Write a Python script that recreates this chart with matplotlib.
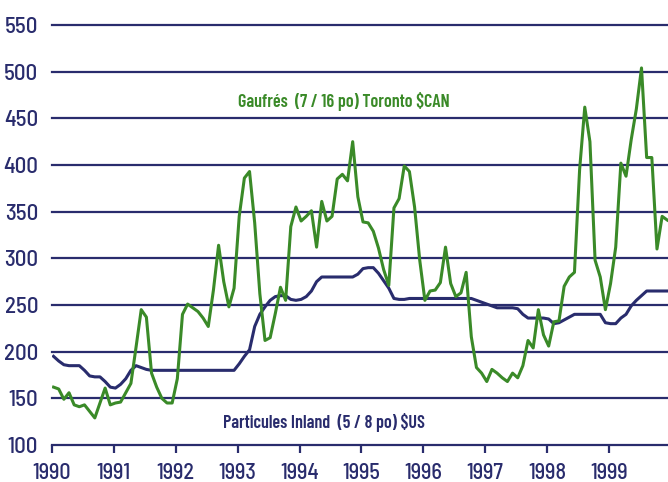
import numpy as np
import matplotlib
matplotlib.use("Agg")
import matplotlib.pyplot as plt

# monthly prices, Jan 1990 .. Dec 1999
gaufres = [162, 160, 149, 156, 143, 141, 143, 136, 129, 145, 161, 143,
           145, 146, 156, 166, 205, 245, 237, 177, 162, 150, 145, 145,
           171, 240, 251, 247, 243, 236, 227, 266, 314, 275, 248, 268,
           345, 386, 393, 338, 262, 212, 215, 241, 269, 255, 334, 355,
           340, 345, 351, 312, 361, 340, 345, 385, 390, 383, 425, 366,
           339, 338, 329, 311, 288, 271, 354, 364, 399, 393, 355, 298,
           255, 265, 266, 274, 312, 273, 259, 263, 285, 216, 183, 177,
           168, 181, 177, 172, 168, 177, 172, 185, 212, 204, 245, 218,
           206, 232, 233, 270, 280, 285, 395, 462, 425, 298, 280, 245,
           273, 312, 402, 388, 427, 460, 504, 408, 408, 310, 345, 341]

particules = [195, 190, 186, 185, 185, 185, 180, 174, 173, 173, 168, 162,
              161, 165, 171, 180, 185, 183, 181, 180, 180, 180, 180, 180,
              180, 180, 180, 180, 180, 180, 180, 180, 180, 180, 180, 180,
              187, 195, 202, 227, 240, 248, 255, 259, 260, 260, 256, 255,
              256, 259, 265, 275, 280, 280, 280, 280, 280, 280, 280, 283,
              289, 290, 290, 284, 276, 268, 257, 256, 256, 257, 257, 257,
              257, 257, 257, 257, 257, 257, 257, 257, 257, 257, 255, 253,
              251, 249, 247, 247, 247, 247, 246, 240, 236, 236, 236, 236,
              235, 230, 231, 234, 237, 240, 240, 240, 240, 240, 240, 231,
              230, 230, 236, 240, 249, 255, 260, 265, 265, 265, 265, 265]

years = list(range(1990, 2000))
yticks = list(range(100, 551, 50))

label_green = "Gaufrés  (7 / 16 po) Toronto $CAN"
label_navy = "Particules Inland  (5 / 8 po) $US"

NAVY = "#292c6d"
GREEN = "#3a8a28"
TICK_FONT = ["Barlow Semi Condensed", "DejaVu Sans"]
LABEL_FONT = ["Barlow Condensed", "DejaVu Sans"]

t = 1990 + (np.arange(len(gaufres)) + 0.3) / 12

fig = plt.figure(figsize=(6.68, 4.82), dpi=100)
ax = fig.add_axes([52 / 668, 37 / 482, 616 / 668, 420 / 482])

for y in yticks:
    ax.axhline(y, color=NAVY, lw=1.6, zorder=1, clip_on=False)

ax.plot(t, particules, color=NAVY, lw=2.2, zorder=3, solid_joinstyle="round")
ax.plot(t, gaufres, color=GREEN, lw=2.2, zorder=4, solid_joinstyle="round")

ax.set_xlim(1990, 1990 + 616 / 61.89)
ax.set_ylim(100, 550)

for s in ax.spines.values():
    s.set_visible(False)

ax.set_yticks(yticks)
ax.set_yticklabels([str(v) for v in yticks], family=TICK_FONT, fontsize=16.5,
                   fontweight="medium", color=NAVY)
ax.tick_params(axis="y", length=0, pad=10)

ax.set_xticks(years)
ax.set_xticklabels([str(v) for v in years], family=TICK_FONT, fontsize=16,
                   fontweight="medium", color=NAVY)
ax.tick_params(axis="x", length=6, width=1.6, color=NAVY, pad=7, direction="out")

ax.text(1994.71, 468, label_green, family=LABEL_FONT, fontsize=13, fontweight="semibold",
        color=GREEN, ha="center", va="center")
ax.text(1994.39, 124, label_navy, family=LABEL_FONT, fontsize=13, fontweight="semibold",
        color=NAVY, ha="center", va="center")

fig.savefig("out.png", dpi=100)
